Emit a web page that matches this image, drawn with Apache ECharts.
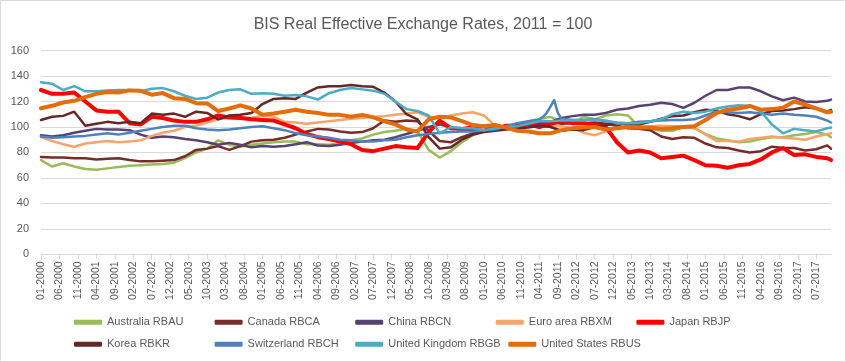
<!DOCTYPE html>
<html>
<head>
<meta charset="utf-8">
<script src="https://cdn.jsdelivr.net/npm/echarts@6/dist/echarts.min.js"></script>
<style>
html,body{margin:0;padding:0;background:#fff;}
#chart{width:846px;height:362px;}
</style>
</head>
<body>
<div id="chart"></div>
<script>
// Months 01-2000 .. 11-2017 (categories)
const months = [];
for (let y = 2000; y <= 2017; y++) {
  for (let m = 1; m <= 12; m++) {
    if (y === 2017 && m > 11) break;
    months.push((m < 10 ? '0' + m : '' + m) + '-' + y);
  }
}
// Values read quarterly (Jan, Apr, Jul, Oct of each year) plus Nov 2017
const sampleMonths = [];
for (let k = 0; k < 72; k++) sampleMonths.push(k * 3);
sampleMonths.push(214);

const seriesNames = ['Australia RBAU','Canada RBCA','China RBCN','Euro area RBXM','Japan RBJP','Korea RBKR','Switzerland RBCH','United Kingdom RBGB','United States RBUS'];

const australia = [74,69,71.5,69, 67,66.5,67.5,68.5, 69.5,70,70.5,71, 72,75.5,80,83, 89.5,86,84.5,86, 87,88,88.5,88.5, 86.5,86.5,86,87, 89.5,91,94,96, 97,98.5,96.5,82, 76,81,88,93.5, 97,99,100,102.5, 103,106,108,104, 103,108,106,109, 110,109,100,98.5, 97,97,100,99, 94.5,91,89.5,88, 88.5,90.5,92,92, 93.5,94.5,96,94, 92];
const canada = [76.5,76,76,75.5, 75.5,74.5,75,75.5, 74,73,73,73.5, 74,77,82,83, 85,82,85,88.5, 89.5,90,91.5,94, 96.5,98.5,98,96.5, 95.5,96,99,105, 104,105,104.5,97, 89,88,92,95, 96.5,99,99.5,100.5, 101.5,103,104,102.5, 103,103,103.5,102.5, 101,99,98.5,97.5, 92.5,90.5,92,91.5, 87,84,83.5,81.5, 80,81,84.5,83.5, 83.5,81.5,82.5,85.5, 83];
const china = [93.5,92.5,93.5,95.5, 97,98.5,98,98, 97.5,94,91.5,92.5, 92,90.5,89.5,88, 86,87.5,86,84, 85,84.5,85,86.5, 88,85.5,85,86, 87.5,88.5,89.5,90, 92,94.5,97,100, 102,99.5,97.5,97.5, 97,99,100,101, 102.5,101.5,104,107, 108.5,109.5,109.5,111, 113.5,114.5,116.5,117.5, 119,118,115,119, 124.5,129,129,131, 131,128,124,121, 123,120,119.5,120.5, 121.5];
const euro = [92,89,86.5,84.5, 87,88,89,88, 88.5,89.5,93,95.5, 97,100,101,103.5, 106,107,107,107, 109,108,104,103.5, 102.5,103.5,104.5,105.5, 106.5,107,108,108.5, 109.5,110.5,111.5,108, 107,109,110.5,111.5, 109,101,99.5,99.5, 100.5,100,101,100.5, 99,95.5,93.5,96.5, 99,99.5,100,100.5, 101,100.5,100.5,99.5, 94,89,89,88.5, 90.5,91.5,92.5,91.5, 91,90,92.5,94.5, 95];
const japan = [129,126,126,127, 120,113,112,112, 103,102,108,107, 105,104,104,106, 109,107.5,107,106, 105.5,105,102,99, 94.5,92,90.5,88.5, 86.5,82,81,83, 85,84,83.5,96, 105,99,98.5,99.5, 100.5,98,101,101, 102,100,102.5,104.5, 103,103,101.5,100, 88,80,81.5,80, 75.5,76.5,77.5,74, 70,69.5,68,70, 71,74.5,80,83.5, 78,78.5,76.5,75.5, 74];
const korea = [105.5,108,108.7,112, 101,102.5,104,103, 104,103,110.5,109.5, 110.5,108,112,111, 106,109,109.5,111, 118,122,122.5,122, 127,131,132,132, 133,132,131.5,127, 120,110,106,92, 83,84,90,94, 96,97,98,99, 99.5,101,100,97, 98,97.5,100,101.5, 103,102,102,104, 106.5,108.5,109,111.5, 113.5,113,110,108.5, 106,110,112.5,113, 114,115.5,114.5,112, 113.5];
const swiss = [92.5,91.5,92,92.5, 93,94,95,94, 95.5,97,98.5,100, 101,101,99,98, 97.5,98,99,100, 100.5,99,97.5,95, 93.5,92.5,91.5,90, 89.5,88.5,88.5,89.5, 90,92,93.5,94.5, 95.5,96,96.5,96.5, 97.5,98,100.5,103, 104.5,106,116,106.5, 105.5,105.5,106,104.5, 103.5,103,104,104.5, 105,105.5,105.5,106, 109,112,111.5,111, 111.5,110.5,109.5,110.5, 109.5,109,108,105, 103.5];
const swissExtra = [[136,108],[137,111],[139,121],[140,111]];
const uk = [135,134,129,132, 128,128,128.7,129, 129,128,130,130.5, 128,124.5,122,123, 127,129,129.5,126, 126.5,126,124.5,125, 124,121.5,126.5,129, 130.5,129.5,128.5,126, 120,114,112.5,109, 95,100,99,99, 97.5,99,100,100.5, 102.5,104.5,104.5,105, 105,105.5,105.5,105, 103,103,103,104.5, 106,110,112,111, 112,114.5,116,117, 116.5,112,102,95, 98.5,97.5,96.5,99, 99.5];
const us = [114.7,116.6,119.2,120.5, 123.4,126,127.4,127, 128.7,128.4,125.3,126.6, 122.6,122,118.7,118.5, 112.5,114.5,117,114.5, 109.5,110.5,112,113.5, 112,111,109.5,109.5, 108,109.5,107.5,104.5, 102,98,96.5,106, 108,107.5,104.5,101.5, 100.5,101.5,99.5,97, 96.5,95,95,97.5, 99,99.5,100,98, 99,100,99.5,99.5, 98.5,99,100,100.5, 105.5,111,113.5,114.5, 116.5,113.5,114,115, 120,117.5,114.5,111.5, 112];

const yTicks = [0,20,40,60,80,100,120,140,160];

const colors = ['#9BBB59','#772C2A','#574372','#F5A56C','#FF0000','#652826','#4F81BD','#4BACC6','#E46C0A'];
const widths = [2.5,2.5,2.5,2.5,4,2.5,2.5,2.5,4];
const valueSets = [australia, canada, china, euro, japan, korea, swiss, uk, us];
const extras = [[],[],[],[],[],[],swissExtra,[],[]];

function buildData(vals, extra) {
  const arr = new Array(months.length).fill(null);
  sampleMonths.forEach((m, k) => { arr[m] = vals[k]; });
  extra.forEach(p => { arr[p[0]] = p[1]; });
  return arr;
}

const FONT = '"Liberation Sans", Arial, sans-serif';

const chart = echarts.init(document.getElementById('chart'), null, {renderer: 'canvas'});
chart.setOption({
  animation: false,
  backgroundColor: '#fff',
  title: {
    text: 'BIS Real Effective Exchange Rates, 2011 = 100',
    left: 'center', top: 12,
    textStyle: {fontFamily: FONT, fontSize: 16, fontWeight: 'normal', color: '#595959'}
  },
  graphic: [{
    type: 'rect', silent: true, z: 100,
    shape: {x: 0.5, y: 0.5, width: 845, height: 361},
    style: {fill: 'none', stroke: '#D9D9D9', lineWidth: 1}
  }],
  grid: {left: 41, right: 15, top: 50.5, bottom: 107.6},
  legend: {
    left: 74, top: 315, width: 720, padding: 0,
    itemWidth: 28, itemHeight: 5, itemGap: 7.6,
    icon: 'roundRect',
    textStyle: {fontFamily: FONT, fontSize: 11, color: '#595959', width: 100, lineHeight: 14.5},
    data: seriesNames
  },
  xAxis: {
    type: 'category',
    data: months,
    boundaryGap: false,
    axisLine: {lineStyle: {color: '#D9D9D9'}},
    axisTick: {show: true, interval: 4, length: 5, lineStyle: {color: '#D9D9D9'}},
    axisLabel: {interval: 4, rotate: 90, margin: 7, fontFamily: FONT, fontSize: 10.5, color: '#595959'},
    splitLine: {show: false}
  },
  yAxis: {
    type: 'value', min: yTicks[0], max: yTicks[yTicks.length - 1], interval: 20,
    axisLine: {show: false}, axisTick: {show: false},
    axisLabel: {margin: 12, fontFamily: FONT, fontSize: 11, color: '#595959'},
    splitLine: {lineStyle: {color: '#D9D9D9', width: 1}}
  },
  series: seriesNames.map((name, i) => ({
    name: name,
    type: 'line',
    data: buildData(valueSets[i], extras[i]),
    connectNulls: true,
    showSymbol: false,
    symbol: 'none',
    color: colors[i],
    lineStyle: {width: widths[i], color: colors[i], join: 'round', cap: 'round'},
    z: 2 + i
  }))
});
</script>
</body>
</html>
